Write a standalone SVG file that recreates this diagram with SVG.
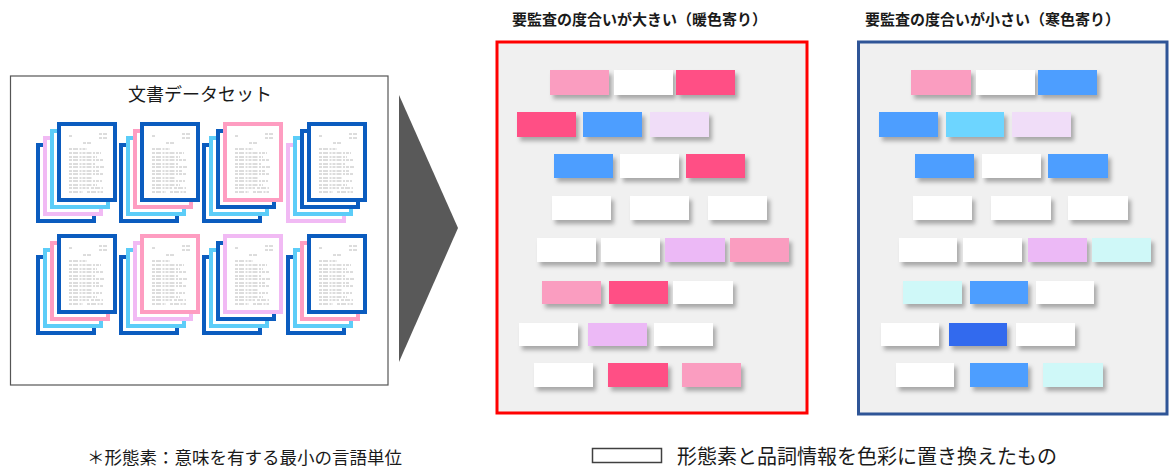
<svg xmlns="http://www.w3.org/2000/svg" xmlns:xlink="http://www.w3.org/1999/xlink" width="1170" height="468" viewBox="0 0 1170 468">
<style>
  .jp { font-family: "Noto Sans CJK JP", "Noto Sans", sans-serif; fill: #1a1a1a; }
  .hd { font-size: 15px; font-weight: bold; }
  .pg { fill: #ffffff; stroke-width: 4; }
  .db { stroke: #0b5cbf; }
  .lb { stroke: #5ccdf8; }
  .lv { stroke: #f1baf4; }
  .pk { stroke: #fe9dc1; }
  .bx { filter: url(#sh); }
  .c-lp { fill: #fa9dc0; }
  .c-hp { fill: #ff5085; }
  .c-bl { fill: #4e9eff; }
  .c-lv { fill: #f0ddf8; }
  .c-pu { fill: #ecb9f6; }
  .c-cy { fill: #6dd5ff; }
  .c-lc { fill: #cff8f8; }
  .c-dk { fill: #316aee; }
  .c-wh { fill: #ffffff; }
  .txl { stroke: #a8a8a8; stroke-width: 0.8; fill: none; stroke-dasharray: 3 1 5 1.5 2 1; }
</style>
<defs>
  <filter id="sh" x="-20%" y="-30%" width="150%" height="180%">
    <feDropShadow dx="3" dy="4" stdDeviation="2" flood-color="#000" flood-opacity="0.3"/>
  </filter>
  <g id="lines" class="txl">
    <path d="M12 14h4M42 12h8M42 16h8M26 21h8"/>
    <path d="M12 27h18M12 31h32M12 35h28M12 38h34M12 42h26M12 45h35M12 49h30M12 52h34M12 56h24M12 59h33M12 63h28M12 66h20M34 66h12M12 70h14M30 70h16"/>
  </g>
</defs>

<g id="dataset">
  <rect x="10.5" y="76" width="377.5" height="309" fill="#ffffff" stroke="#555555" stroke-width="1.2"/>
  <text class="jp" x="200" y="101" font-size="18" text-anchor="middle">文書データセット</text>
</g>

<g id="stack-1-1">
  <rect class="pg db" x="38" y="145" width="56" height="76"/>
  <rect class="pg lv" x="45" y="138" width="56" height="76"/>
  <rect class="pg lb" x="52" y="131" width="56" height="76"/>
  <rect class="pg db" x="59" y="124" width="56" height="76"/>
  <use xlink:href="#lines" x="57" y="122"/>
</g>
<g id="stack-1-2">
  <rect class="pg db" x="121" y="145" width="56" height="76"/>
  <rect class="pg lb" x="128" y="138" width="56" height="76"/>
  <rect class="pg pk" x="135" y="131" width="56" height="76"/>
  <rect class="pg db" x="142" y="124" width="56" height="76"/>
  <use xlink:href="#lines" x="140" y="122"/>
</g>
<g id="stack-1-3">
  <rect class="pg db" x="204" y="145" width="56" height="76"/>
  <rect class="pg lb" x="211" y="138" width="56" height="76"/>
  <rect class="pg db" x="218" y="131" width="56" height="76"/>
  <rect class="pg pk" x="225" y="124" width="56" height="76"/>
  <use xlink:href="#lines" x="223" y="122"/>
</g>
<g id="stack-1-4">
  <rect class="pg lv" x="288" y="145" width="56" height="76"/>
  <rect class="pg lb" x="295" y="138" width="56" height="76"/>
  <rect class="pg db" x="302" y="131" width="56" height="76"/>
  <rect class="pg db" x="309" y="124" width="56" height="76"/>
  <use xlink:href="#lines" x="307" y="122"/>
</g>
<g id="stack-2-1">
  <rect class="pg db" x="38" y="257" width="56" height="76"/>
  <rect class="pg lb" x="45" y="250" width="56" height="76"/>
  <rect class="pg pk" x="52" y="243" width="56" height="76"/>
  <rect class="pg db" x="59" y="236" width="56" height="76"/>
  <use xlink:href="#lines" x="57" y="234"/>
</g>
<g id="stack-2-2">
  <rect class="pg db" x="121" y="257" width="56" height="76"/>
  <rect class="pg lb" x="128" y="250" width="56" height="76"/>
  <rect class="pg lv" x="135" y="243" width="56" height="76"/>
  <rect class="pg pk" x="142" y="236" width="56" height="76"/>
  <use xlink:href="#lines" x="140" y="234"/>
</g>
<g id="stack-2-3">
  <rect class="pg db" x="204" y="257" width="56" height="76"/>
  <rect class="pg lb" x="211" y="250" width="56" height="76"/>
  <rect class="pg db" x="218" y="243" width="56" height="76"/>
  <rect class="pg lv" x="225" y="236" width="56" height="76"/>
  <use xlink:href="#lines" x="223" y="234"/>
</g>
<g id="stack-2-4">
  <rect class="pg db" x="288" y="257" width="56" height="76"/>
  <rect class="pg lb" x="295" y="250" width="56" height="76"/>
  <rect class="pg pk" x="302" y="243" width="56" height="76"/>
  <rect class="pg db" x="309" y="236" width="56" height="76"/>
  <use xlink:href="#lines" x="307" y="234"/>
</g>

<g id="arrow">
  <polygon points="399,95 458,228 399,362" fill="#595959"/>
</g>

<g id="warm-panel">
  <text class="jp hd" x="512" y="25">要監査の度合いが大きい（暖色寄り）</text>
  <rect x="497" y="42" width="310" height="371" fill="#f0f0f0" stroke="#ff0000" stroke-width="3"/>
  <g class="bx">
    <rect class="c-lp" x="550" y="70" width="59" height="25"/>
    <rect class="c-wh" x="614" y="70" width="59" height="25"/>
    <rect class="c-hp" x="676" y="70" width="59" height="25"/>
    <rect class="c-hp" x="517" y="112" width="59" height="25"/>
    <rect class="c-bl" x="583" y="112" width="59" height="25"/>
    <rect class="c-lv" x="650" y="112" width="59" height="25"/>
    <rect class="c-bl" x="554" y="154" width="59" height="24"/>
    <rect class="c-wh" x="620" y="154" width="59" height="24"/>
    <rect class="c-hp" x="686" y="154" width="59" height="24"/>
    <rect class="c-wh" x="552" y="196" width="59" height="24"/>
    <rect class="c-wh" x="630" y="196" width="59" height="24"/>
    <rect class="c-wh" x="708" y="196" width="59" height="24"/>
    <rect class="c-wh" x="537" y="238" width="59" height="24"/>
    <rect class="c-wh" x="601" y="238" width="59" height="24"/>
    <rect class="c-pu" x="665" y="238" width="60" height="24"/>
    <rect class="c-lp" x="730" y="238" width="59" height="24"/>
    <rect class="c-lp" x="542" y="281" width="59" height="23"/>
    <rect class="c-hp" x="609" y="281" width="59" height="23"/>
    <rect class="c-wh" x="673" y="281" width="60" height="23"/>
    <rect class="c-wh" x="519" y="323" width="59" height="23"/>
    <rect class="c-pu" x="588" y="323" width="59" height="23"/>
    <rect class="c-wh" x="654" y="323" width="59" height="23"/>
    <rect class="c-wh" x="534" y="363" width="59" height="24"/>
    <rect class="c-hp" x="608" y="363" width="60" height="24"/>
    <rect class="c-lp" x="682" y="363" width="59" height="24"/>
  </g>
</g>

<g id="cool-panel">
  <text class="jp hd" x="865" y="25">要監査の度合いが小さい（寒色寄り）</text>
  <rect x="858.5" y="42" width="308.5" height="372" fill="#f0f0f0" stroke="#2f5597" stroke-width="3"/>
  <g class="bx">
    <rect class="c-lp" x="911" y="70" width="60" height="25"/>
    <rect class="c-wh" x="976" y="70" width="59" height="25"/>
    <rect class="c-bl" x="1038" y="70" width="59" height="25"/>
    <rect class="c-bl" x="879" y="112" width="59" height="25"/>
    <rect class="c-cy" x="946" y="112" width="58" height="25"/>
    <rect class="c-lv" x="1012" y="112" width="59" height="25"/>
    <rect class="c-bl" x="915" y="154" width="59" height="24"/>
    <rect class="c-wh" x="982" y="154" width="59" height="24"/>
    <rect class="c-bl" x="1048" y="154" width="60" height="24"/>
    <rect class="c-wh" x="913" y="196" width="59" height="24"/>
    <rect class="c-wh" x="991" y="196" width="60" height="24"/>
    <rect class="c-wh" x="1068" y="196" width="60" height="24"/>
    <rect class="c-wh" x="899" y="238" width="58" height="24"/>
    <rect class="c-wh" x="963" y="238" width="59" height="24"/>
    <rect class="c-pu" x="1028" y="238" width="59" height="24"/>
    <rect class="c-lc" x="1092" y="238" width="59" height="24"/>
    <rect class="c-lc" x="903" y="281" width="59" height="23"/>
    <rect class="c-bl" x="970" y="281" width="58" height="23"/>
    <rect class="c-wh" x="1036" y="281" width="58" height="23"/>
    <rect class="c-wh" x="881" y="323" width="58" height="23"/>
    <rect class="c-dk" x="949" y="323" width="58" height="23"/>
    <rect class="c-wh" x="1016" y="323" width="59" height="23"/>
    <rect class="c-wh" x="896" y="363" width="58" height="24"/>
    <rect class="c-bl" x="970" y="363" width="58" height="24"/>
    <rect class="c-lc" x="1043" y="363" width="60" height="24"/>
  </g>
</g>

<g id="footnote">
  <text class="jp" x="87" y="464" font-size="17.5">＊形態素：意味を有する最小の言語単位</text>
</g>

<g id="legend">
  <rect x="592.5" y="448.5" width="69" height="14" fill="#ffffff" stroke="#404040" stroke-width="1.5"/>
  <text class="jp" x="677" y="464" font-size="20">形態素と品詞情報を色彩に置き換えたもの</text>
</g>
</svg>
